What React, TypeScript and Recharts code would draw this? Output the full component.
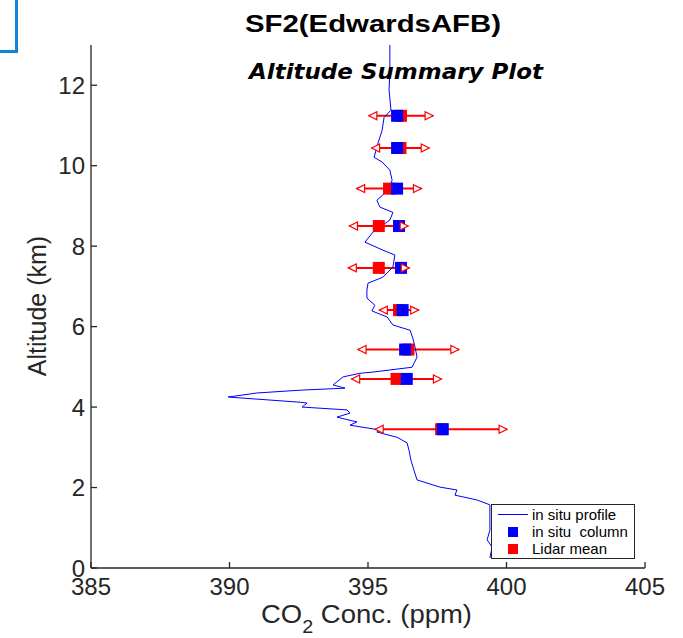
import React from 'react';
import { ScatterChart, Scatter, XAxis, YAxis, ErrorBar } from 'recharts';

// in situ profile (altitude km, CO2 ppm), bottom to top
const profileAlt = [0.25, 0.52, 0.70, 0.94, 1.39, 1.57, 1.69, 1.81, 1.94, 2.01, 2.19, 2.43, 2.68, 2.93, 3.11, 3.25, 3.38, 3.43, 3.55, 3.63, 3.75, 3.85, 3.93, 4.00, 4.10, 4.12, 4.25, 4.35, 4.42, 4.47, 4.55, 4.75, 4.84, 4.87, 4.99, 5.24, 5.49, 5.71, 5.91, 6.04, 6.24, 6.39, 6.53, 6.71, 6.91, 7.08, 7.23, 7.48, 7.78, 7.90, 8.10, 8.35, 8.65, 8.84, 8.97, 9.14, 9.39, 9.64, 9.89, 10.09, 10.21, 10.56, 10.88, 11.20, 11.38, 11.88, 12.37, 13.0];
const profileCo2 = [399.40, 399.48, 399.30, 399.40, 399.40, 399.40, 398.94, 398.14, 398.21, 397.60, 396.77, 396.66, 396.55, 396.48, 396.41, 396.05, 395.32, 395.43, 394.35, 394.60, 393.88, 394.35, 394.24, 392.62, 392.80, 392.55, 389.95, 390.99, 392.55, 394.17, 393.74, 394.10, 394.71, 395.18, 396.59, 396.77, 396.70, 396.62, 396.52, 395.90, 395.69, 395.14, 395.25, 394.96, 394.96, 395.00, 395.54, 395.90, 395.97, 395.54, 394.89, 395.18, 395.79, 395.90, 395.43, 395.32, 395.72, 395.87, 395.79, 395.51, 395.22, 395.36, 395.51, 395.58, 395.83, 395.76, 395.79, 395.79];

// summary levels
const levelAlt = [11.24, 10.44, 9.43, 8.50, 7.46, 6.41, 5.43, 4.70, 3.45];
const insituColumn = [396.05, 396.05, 396.05, 396.12, 396.19, 396.25, 396.34, 396.40, 397.70];
const lidarMean = [396.19, 396.17, 395.76, 395.39, 395.39, 396.12, 396.46, 396.03, 397.64];
const lidarErr = [1.16, 1.04, 1.17, 1.06, 1.10, 0.71, 1.82, 1.62, 2.38];

const xTicks = [385, 390, 395, 400, 405];
const yTicks = [0, 2, 4, 6, 8, 10, 12];

const profileData = profileAlt.map((y, i) => ({ x: profileCo2[i], y }));
const columnData = levelAlt.map((y, i) => ({ x: insituColumn[i], y }));
const lidarData = levelAlt.map((y, i) => ({ x: lidarMean[i], y, err: lidarErr[i] }));
const lowEnds = levelAlt.map((y, i) => ({ x: lidarMean[i] - lidarErr[i], y }));
const highEnds = levelAlt.map((y, i) => ({ x: lidarMean[i] + lidarErr[i], y }));

const AXIS = '#262626';
const FONT = '"Liberation Sans", Arial, Helvetica, sans-serif';

const square = (color: string) => (props: any) => {
  const { cx, cy } = props;
  return <rect x={cx - 6} y={cy - 6} width={12} height={12} fill={color} />;
};
const none = () => <g />;
const arrowLeft = (props: any) => {
  const { cx, cy } = props;
  return <polygon points={`${cx},${cy} ${cx + 8},${cy - 4} ${cx + 8},${cy + 4}`} fill="#ffffff" stroke="#ff0000" strokeWidth={1.2} />;
};
const arrowRight = (props: any) => {
  const { cx, cy } = props;
  return <polygon points={`${cx},${cy} ${cx - 8},${cy - 4} ${cx - 8},${cy + 4}`} fill="#ffffff" stroke="#ff0000" strokeWidth={1.2} />;
};

export default function App() {
  const tickStyle = { fill: AXIS, fontSize: 24, fontFamily: FONT };
  return (
    <div style={{ position: 'absolute', left: 0, top: 0, width: 683, height: 638, background: '#fff', fontFamily: FONT, overflow: 'hidden' }}>
      <div style={{ position: 'absolute', left: 0, top: 0, width: 15, height: 50, borderRight: '3px solid #1185d0', borderBottom: '3px solid #1185d0' }} />
      <ScatterChart width={683} height={638} margin={{ top: 45, right: 38, left: 0, bottom: 0 }}>
        <XAxis xAxisId="b" type="number" dataKey="x" domain={[385, 405]} ticks={xTicks} allowDataOverflow
          height={70} tickSize={-6} tickMargin={16} stroke={AXIS} strokeWidth={1.3} tick={tickStyle} interval={0} />
        <XAxis xAxisId="t" orientation="top" type="number" dataKey="x" domain={[385, 405]} ticks={xTicks} allowDataOverflow
          height={0} tickSize={-6} stroke={AXIS} strokeWidth={1.3} tickFormatter={() => ''} interval={0} />
        <YAxis yAxisId="l" type="number" dataKey="y" domain={[0, 13]} ticks={yTicks} allowDataOverflow
          width={91} tickSize={-6} tickMargin={12} stroke={AXIS} strokeWidth={1.3} tick={tickStyle} interval={0} />
        <YAxis yAxisId="r" orientation="right" type="number" dataKey="y" domain={[0, 13]} ticks={yTicks} allowDataOverflow
          width={0} tickSize={-6} stroke={AXIS} strokeWidth={1.3} tickFormatter={() => ''} interval={0} />
        <Scatter xAxisId="b" yAxisId="l" data={profileData} line={{ stroke: '#0000ff', strokeWidth: 1 }} lineType="joint" shape={none} isAnimationActive={false} />
        <Scatter xAxisId="b" yAxisId="l" data={lidarData} shape={square('#ff0000')} isAnimationActive={false} />
        <Scatter xAxisId="b" yAxisId="l" data={columnData} shape={square('#0000ff')} isAnimationActive={false} />
        <Scatter xAxisId="b" yAxisId="l" data={lidarData} shape={none} isAnimationActive={false}>
          <ErrorBar dataKey="err" direction="x" width={0} stroke="#ff0000" strokeWidth={2} isAnimationActive={false} />
        </Scatter>
        <Scatter xAxisId="b" yAxisId="l" data={lowEnds} shape={arrowLeft} isAnimationActive={false} />
        <Scatter xAxisId="b" yAxisId="l" data={highEnds} shape={arrowRight} isAnimationActive={false} />
      </ScatterChart>
      <svg width={683} height={638} style={{ position: 'absolute', left: 0, top: 0, pointerEvents: 'none' }}>
        <text x={373} y={32} textAnchor="middle" fontFamily={FONT} fontWeight="bold" fontSize={24} fill="#000" textLength={256} lengthAdjust="spacingAndGlyphs">SF2(EdwardsAFB)</text>
        <text x={396} y={79} textAnchor="middle" fontFamily='"DejaVu Sans", sans-serif' fontWeight="bold" fontStyle="italic" fontSize={21} fill="#000" textLength={294} lengthAdjust="spacingAndGlyphs">Altitude Summary Plot</text>
        <text x={261} y={623} fontFamily={FONT} fontSize={25} fill={AXIS} textLength={211} lengthAdjust="spacingAndGlyphs">
          CO<tspan fontSize={18} dy={10}>2</tspan><tspan dy={-10}> Conc. (ppm)</tspan>
        </text>
        <text transform="translate(46,306) rotate(-90)" textAnchor="middle" fontFamily={FONT} fontSize={25} fill={AXIS}>Altitude (km)</text>
      </svg>
      <div style={{ position: 'absolute', left: 491, top: 504, width: 142, height: 53, border: '1.3px solid #262626', background: '#fff', fontSize: 15, color: '#000', lineHeight: '17px' }}>
        <div style={{ position: 'absolute', left: 6, top: 9, width: 30, height: 0, borderTop: '1px solid #0000ff' }} />
        <div style={{ position: 'absolute', left: 40, top: 1, whiteSpace: 'pre' }}>in situ profile</div>
        <div style={{ position: 'absolute', left: 16, top: 22, width: 10, height: 10, background: '#0000ff' }} />
        <div style={{ position: 'absolute', left: 40, top: 18, whiteSpace: 'pre' }}>in situ  column</div>
        <div style={{ position: 'absolute', left: 16, top: 39, width: 10, height: 10, background: '#ff0000' }} />
        <div style={{ position: 'absolute', left: 40, top: 35, whiteSpace: 'pre' }}>Lidar mean</div>
      </div>
    </div>
  );
}
